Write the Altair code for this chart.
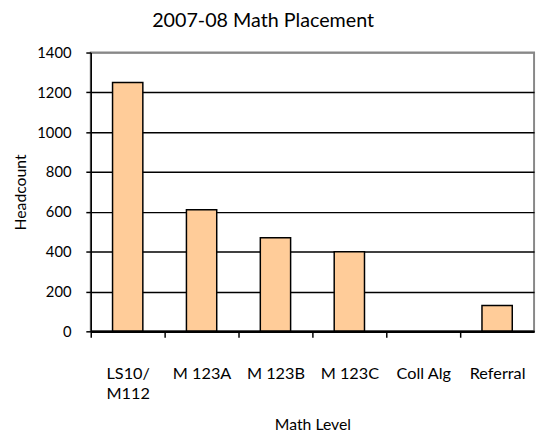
import altair as alt
import pandas as pd

categories = ["LS10/|M112", "M 123A", "M 123B", "M 123C", "Coll Alg", "Referral"]
headcount = [1250, 610, 470, 400, 0, 130]
y_ticks = [0, 200, 400, 600, 800, 1000, 1200, 1400]

df = pd.DataFrame({"level": categories, "count": headcount})

FONT = "Lato"

chart = alt.Chart(df).mark_bar(
    color="#FFCC99", strokeWidth=1.5
).encode(
    x=alt.X("level:N", sort=categories,
            scale=alt.Scale(paddingInner=0.59, paddingOuter=0.295),
            axis=alt.Axis(title="Math Level", tickOffset=-37.5, labelOffset=37.5,
                          zindex=1,
                          domainColor="black", domainWidth=2.5,
                          tickColor="black", tickSize=6, tickWidth=1.5,
                          labelAngle=0, labelPadding=29, labelAlign="center",
                          labelBaseline="top", labelLineHeight=20,
                          labelExpr="split(datum.label, '|')",
                          labelFontSize=16.5, labelFont=FONT, labelColor="black",
                          titleFont=FONT, titleFontSize=16, titleFontWeight="normal",
                          titleColor="black", titlePadding=15)),
    y=alt.Y("count:Q", scale=alt.Scale(domain=[0, 1400]),
            axis=alt.Axis(title="Headcount", values=y_ticks, format="d",
                          grid=True,
                          gridColor={"condition": {"test": "datum.value == 1400", "value": "#888888"},
                                     "value": "black"},
                          gridWidth=1.5,
                          domainColor="black", domainWidth=1.5,
                          tickColor="black", tickSize=5, tickWidth=1.5,
                          labelFontSize=15, labelFont=FONT, labelColor="black",
                          labelPadding=15,
                          titleFont=FONT, titleFontSize=16, titleFontWeight="normal",
                          titleColor="black", titlePadding=8)),
    stroke=alt.condition("datum.count > 0", alt.value("black"), alt.value("transparent")),
).properties(
    width=450, height=283,
    padding={"left": 84, "top": 42, "right": 4, "bottom": 101},
    autosize=alt.AutoSizeParams(type="none"),
    title=alt.TitleParams("2007-08 Math Placement", font=FONT, fontSize=20,
                          fontWeight="normal", color="black", anchor="middle",
                          dx=-50, offset=15),
).configure_view(stroke="#888888", strokeWidth=2)

chart.save("out.html", embed_options={"renderer": "svg", "actions": False})
